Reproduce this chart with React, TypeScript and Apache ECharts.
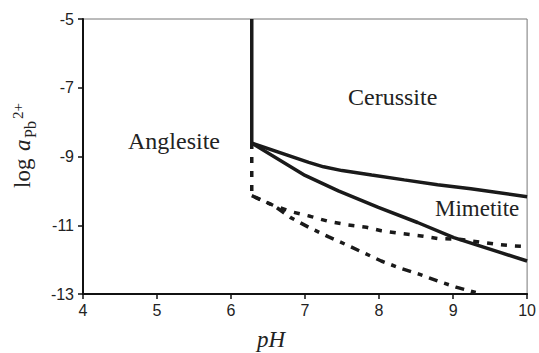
import React, { useEffect, useRef } from "react";
import * as echarts from "echarts";

// Phase boundaries (pH, log a Pb2+)
const vertPH = [6.28, 6.28];
const vertLog = [-5, -8.61];

const cerMimPH = [6.28, 7.05, 7.25, 7.5, 7.9, 8.34, 8.79, 9.24, 10];
const cerMimLog = [-8.61, -9.17, -9.3, -9.41, -9.54, -9.68, -9.82, -9.94, -10.17];

const mimPH = [6.28, 7.0, 7.45, 7.99, 8.52, 9.01, 10];
const mimLog = [-8.61, -9.55, -10.0, -10.48, -10.92, -11.36, -12.04];

const dashPH = [6.28, 6.28, 6.58, 6.82, 7.07, 7.32, 7.58, 7.83, 8.03, 8.3, 8.57, 8.81, 9.06, 9.57, 9.82, 10];
const dashLog = [-8.61, -10.14, -10.43, -10.61, -10.74, -10.89, -10.99, -11.06, -11.16, -11.24, -11.31, -11.39, -11.4, -11.55, -11.6, -11.62];

const dotPH = [6.28, 6.58, 6.8, 7.05, 7.32, 7.54, 7.76, 8.03, 8.3, 8.55, 8.79, 9.04, 9.31, 9.36];
const dotLog = [-10.14, -10.43, -10.77, -11.06, -11.34, -11.55, -11.77, -12.04, -12.26, -12.43, -12.62, -12.8, -12.96, -13];

const yTicks = [-13, -11, -9, -7, -5];

const zip = (xs: number[], ys: number[]) => xs.map((x, i) => [x, ys[i]]);

const INK = "#1a1a1a";
const SERIF = "'Liberation Serif', 'Times New Roman', serif";
const SANS = "'Liberation Sans', Arial, sans-serif";

export default function App() {
  const ref = useRef<HTMLDivElement>(null);
  useEffect(() => {
    document.body.style.margin = "0";
    const chart = echarts.init(ref.current!, null, { renderer: "svg" });
    const lineBase = (data: number[][], type: any, width = 3.5) => ({
      type: "line",
      data,
      showSymbol: false,
      symbol: "none",
      smooth: false,
      lineStyle: { color: INK, width, type },
      z: 3,
    });
    chart.setOption({
      animation: false,
      grid: {
        left: 83,
        right: 9,
        top: 19,
        bottom: 59,
        show: true,
        borderColor: "#777",
        borderWidth: 1,
        backgroundColor: "#fff",
      },
      xAxis: {
        type: "value",
        min: 4,
        max: 10,
        interval: 1,
        axisLine: { show: true, lineStyle: { color: "#111", width: 2 } },
        axisTick: { show: true, length: 5, lineStyle: { color: "#111", width: 1.5 } },
        axisLabel: { color: "#222", fontSize: 16, fontFamily: SANS, margin: 8 },
        splitLine: { show: false },
      },
      yAxis: {
        type: "value",
        min: -13,
        max: -5,
        axisLine: { show: true, lineStyle: { color: "#111", width: 2 } },
        axisTick: {
          show: true,
          length: 5,
          customValues: yTicks,
          lineStyle: { color: "#111", width: 1.5 },
        },
        axisLabel: {
          color: "#222",
          fontSize: 16,
          fontFamily: SANS,
          margin: 9,
          customValues: yTicks,
        },
        splitLine: { show: false },
      },
      series: [
        lineBase(zip(vertPH, vertLog), "solid"),
        lineBase(zip(cerMimPH, cerMimLog), "solid"),
        lineBase(zip(mimPH, mimLog), "solid"),
        lineBase(zip(dashPH, dashLog), [6, 8]),
        lineBase(zip(dotPH, dotLog), [9, 7, 5, 7]),
      ],
      graphic: [
        {
          type: "text",
          left: 348,
          top: 85,
          style: { text: "Cerussite", font: `24px ${SERIF}`, fill: "#222" },
        },
        {
          type: "text",
          left: 128,
          top: 129,
          style: { text: "Anglesite", font: `24px ${SERIF}`, fill: "#222" },
        },
        {
          type: "text",
          left: 435,
          top: 197,
          style: { text: "Mimetite", font: `23px ${SERIF}`, fill: "#222" },
        },
        {
          type: "text",
          left: 257,
          top: 328,
          style: { text: "pH", font: `italic 23px ${SERIF}`, fill: "#222" },
        },
        {
          type: "group",
          x: 34,
          y: 188,
          rotation: Math.PI / 2,
          children: [
            { type: "text", x: 0, y: 0, style: { text: "log", font: `23px ${SERIF}`, fill: "#222", verticalAlign: "bottom" } },
            { type: "text", x: 37, y: 0, style: { text: "a", font: `italic 23px ${SERIF}`, fill: "#222", verticalAlign: "bottom" } },
            { type: "text", x: 50, y: 4, style: { text: "Pb", font: `16px ${SERIF}`, fill: "#222", verticalAlign: "bottom" } },
            { type: "text", x: 69, y: -9, style: { text: "2+", font: `15px ${SERIF}`, fill: "#222", verticalAlign: "bottom" } },
          ],
        },
      ],
    });
    return () => chart.dispose();
  }, []);
  return <div ref={ref} style={{ width: 539, height: 353 }} />;
}
